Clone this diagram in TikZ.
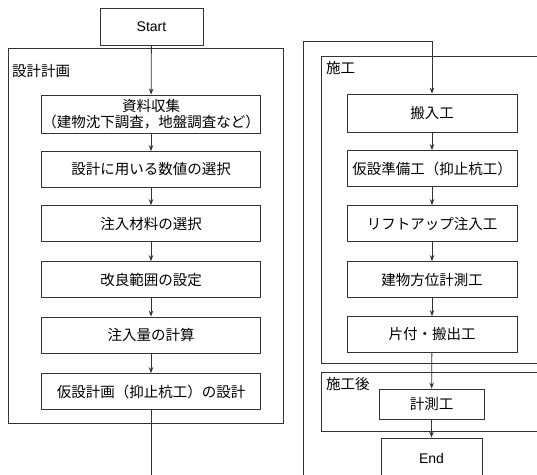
\documentclass[tikz,border=0pt]{standalone}
\usepackage{fontspec}
\setmainfont{Noto Sans CJK JP}
\newfontfamily\latinfont{Liberation Sans}
\usetikzlibrary{arrows.meta}
\tikzset{
  ln/.style={draw=black!80, line width=0.8pt},
  box/.style={ln, rectangle, minimum height=36pt, inner sep=0pt, font=\fontsize{14.5}{16}\selectfont, align=center},
  lbox/.style={box, minimum width=219pt},
  rbox/.style={box, minimum width=170pt},
  grp/.style={ln},
  glabel/.style={anchor=west, inner sep=0pt, font=\fontsize{14.5}{16}\selectfont},
  arr/.style={ln, -{Stealth[length=6pt,width=4.5pt]}},
  con/.style={ln}
}
\begin{document}
\begin{tikzpicture}[x=1pt,y=-1pt]
\useasboundingbox (0,0) rectangle (537,474);
\clip (0,0) rectangle (537,474);
\fill[white] (0,0) rectangle (537,474);

% left group
\draw[grp] (8,48) rectangle (283,423);
\node[glabel] (gl1) at (12,71) {設計計画};

\node[box, minimum width=103pt, minimum height=37pt, font=\latinfont\fontsize{14}{16}\selectfont] (start) at (151.5,26.5) {Start};

\node[lbox, minimum height=38pt, font=\fontsize{14.5}{16.5}\selectfont] (b1) at (151,114) {資料収集\\（建物沈下調査，地盤調査など）};
\node[lbox] (b2) at (151,169.5) {設計に用いる数値の選択};
\node[lbox] (b3) at (151,223.5) {注入材料の選択};
\node[lbox] (b4) at (151,279.5) {改良範囲の設定};
\node[lbox] (b5) at (151,335) {注入量の計算};
\node[lbox] (b6) at (151,391.5) {仮設計画（抑止杭工）の設計};

\draw[arr] (start) -- (b1);
\draw[arr] (b1) -- (b2);
\draw[arr] (b2) -- (b3);
\draw[arr] (b3) -- (b4);
\draw[arr] (b4) -- (b5);
\draw[arr] (b5) -- (b6);
\coordinate (lout) at (151,480);
\draw[con] (b6) -- (lout);

% right groups
\draw[grp] (560,56) -- (321,56) -- (321,363) -- (560,363);
\node[glabel] (gl2) at (326,68) {施工};
\draw[grp] (560,372) -- (321,372) -- (321,431) -- (560,431);
\node[glabel] (gl3) at (326,384) {施工後};

\node[rbox, minimum height=38pt] (r1) at (432,113) {搬入工};
\node[rbox] (r2) at (432,168.5) {仮設準備工（抑止杭工）};
\node[rbox] (r3) at (432,223.5) {リフトアップ注入工};
\node[rbox] (r4) at (432,279.5) {建物方位計測工};
\node[rbox] (r5) at (432,334.5) {片付・搬出工};
\node[box, minimum width=105pt, minimum height=30pt] (m1) at (431.5,404) {計測工};
\node[box, minimum width=101pt, minimum height=40pt, font=\latinfont\fontsize{14}{16}\selectfont] (end) at (431.5,458) {End};

\coordinate (rin) at (303,480);
\coordinate (rc1) at (303,41);
\coordinate (rc2) at (432,41);
\draw[arr] (rin) -- (rc1) -- (rc2) -- (r1);
\draw[arr] (r1) -- (r2);
\draw[arr] (r2) -- (r3);
\draw[arr] (r3) -- (r4);
\draw[arr] (r4) -- (r5);
\draw[arr] (r5) -- (m1);
\draw[arr] (m1) -- (end);
\end{tikzpicture}
\end{document}
